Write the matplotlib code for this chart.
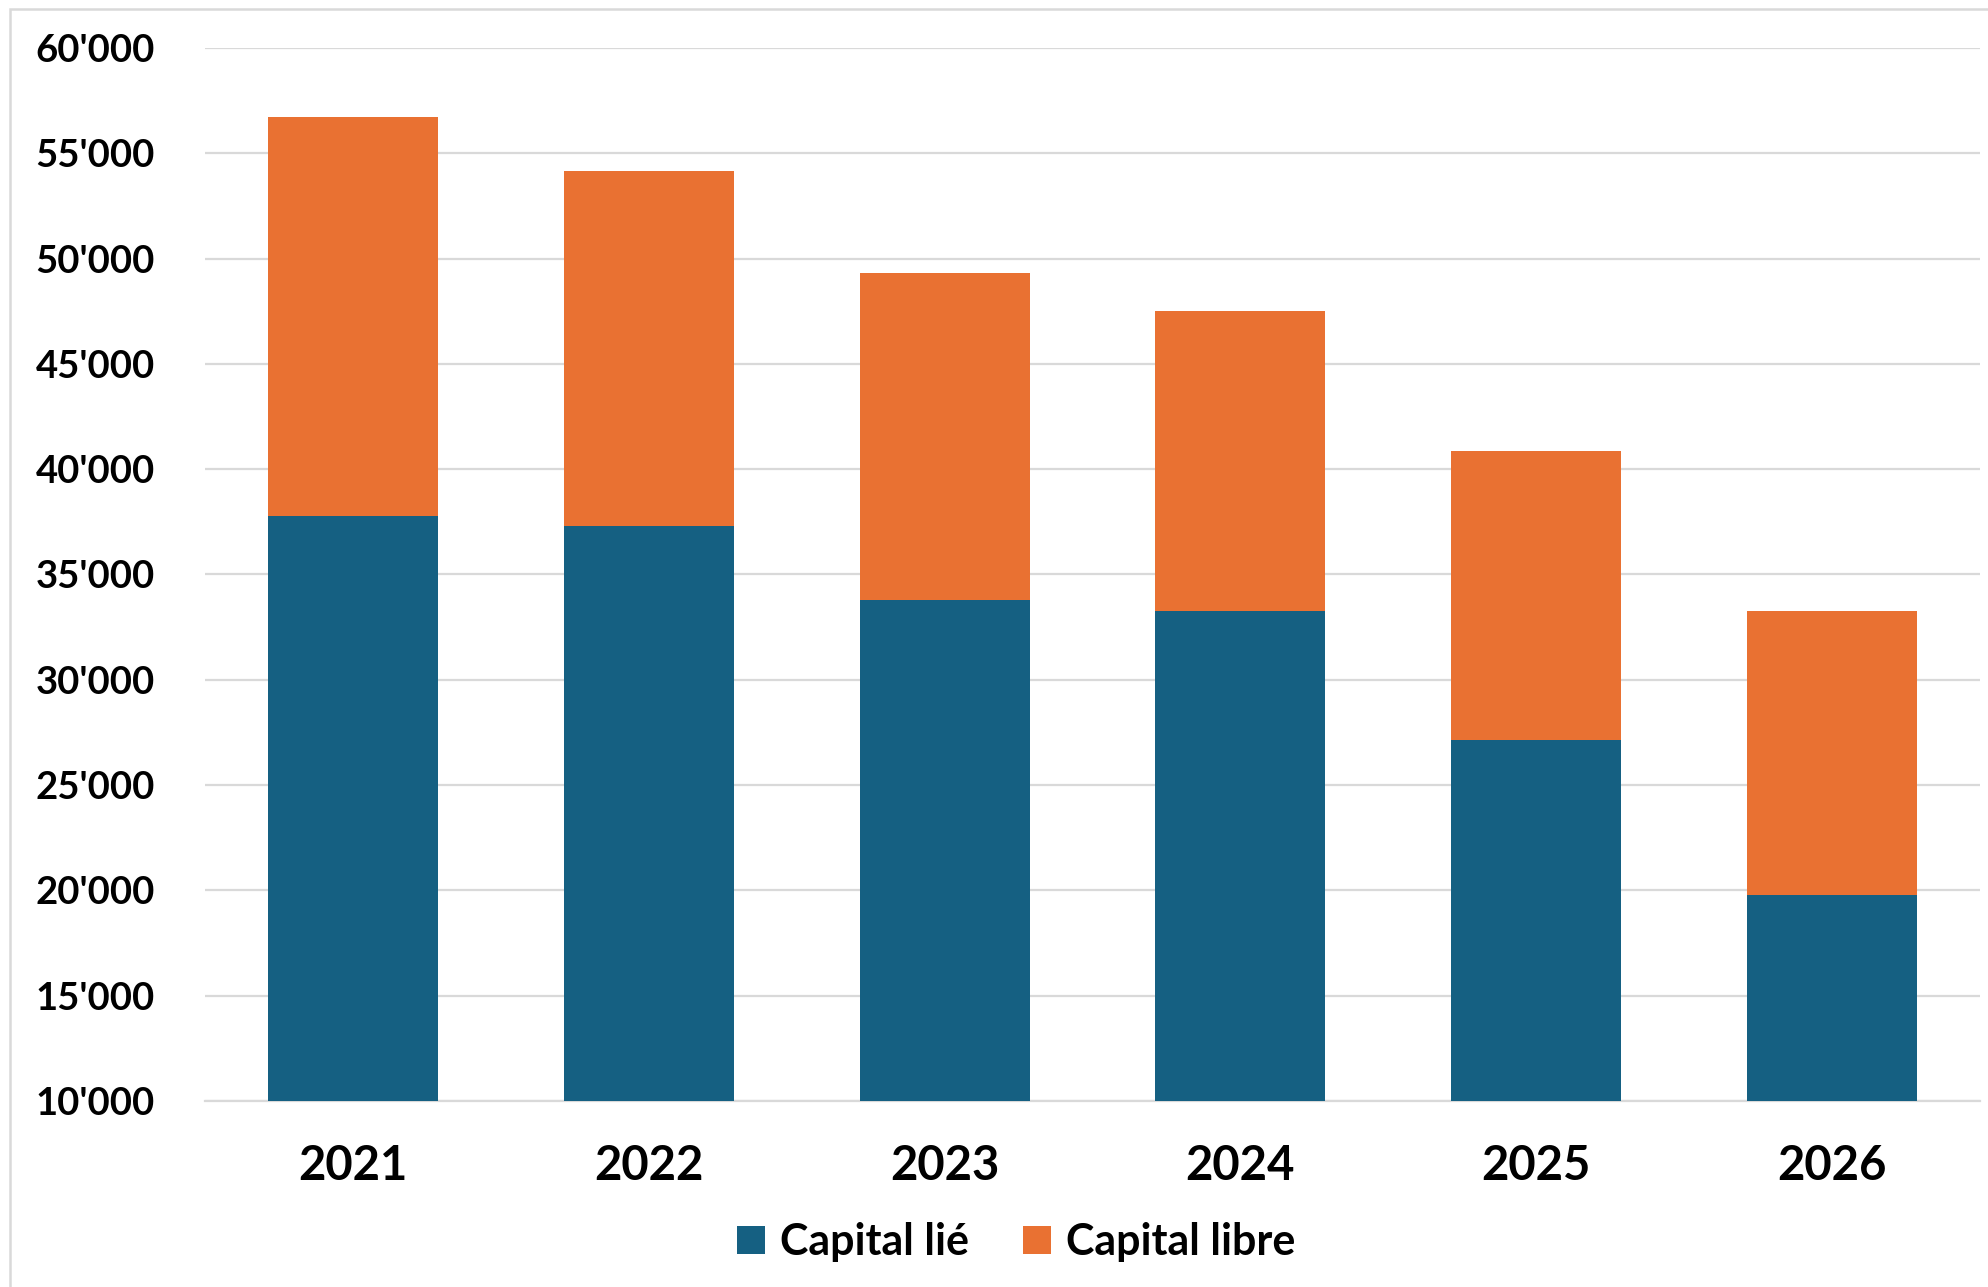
import numpy as np
import matplotlib
import matplotlib.pyplot as plt
from matplotlib.ticker import FuncFormatter
from matplotlib.patches import Rectangle
matplotlib.use('agg')

annees = ['2021', '2022', '2023', '2024', '2025', '2026']
capital_lie = [37800, 37300, 33800, 33250, 27150, 19800]
capital_total = [56700, 54150, 49300, 47500, 40850, 33250]
capital_libre = [t - l for t, l in zip(capital_total, capital_lie)]

bleu = '#156082'
orange = '#E97132'
gris = '#d9d9d9'

plt.rcParams['font.family'] = ['Lato', 'DejaVu Sans']
plt.rcParams['font.weight'] = 'bold'

fig = plt.figure(figsize=(19.88, 12.87), dpi=100)
ax = fig.add_axes([205/1988, 1 - 1101/1287, (1980-205)/1988, (1101-48)/1287])

x = np.arange(len(annees))
ax.bar(x, capital_lie, width=0.575, color=bleu, label='Capital lié', bottom=0, zorder=3)
ax.bar(x, capital_libre, width=0.575, color=orange, bottom=capital_lie, label='Capital libre', zorder=3)

ax.set_ylim(10000, 60000)
ax.set_xlim(-0.5, len(annees) - 0.5)
ax.set_yticks(np.arange(10000, 60001, 5000))
ax.yaxis.set_major_formatter(FuncFormatter(lambda v, p: f"{int(v):,}".replace(',', "'")))
ax.set_xticks(x)
ax.set_xticklabels(annees)

ax.grid(axis='y', color=gris, linewidth=1.6, zorder=0)
for s in ['top', 'right', 'left']:
    ax.spines[s].set_visible(False)
ax.spines['bottom'].set_color(gris)
ax.spines['bottom'].set_linewidth(1.6)
ax.tick_params(axis='y', length=0, pad=36, labelsize=27.5)
ax.tick_params(axis='x', length=0, pad=31, labelsize=34)
for lab in ax.get_xticklabels() + ax.get_yticklabels():
    lab.set_fontweight('bold')

# cadre du graphique
fig.patches.append(Rectangle((10/1988, -0.01), 1.02, 1 - 9/1287 + 0.01, transform=fig.transFigure,
                             fill=False, edgecolor=gris, linewidth=1.8))

fig.legend(loc='center', bbox_to_anchor=(1016/1988, 1 - 1242/1287), ncol=2, frameon=False,
           prop={'size': 31, 'weight': 'bold'}, handlelength=0.65, handleheight=0.65,
           handletextpad=0.35, columnspacing=1.25)

fig.savefig('out.png', dpi=100)
